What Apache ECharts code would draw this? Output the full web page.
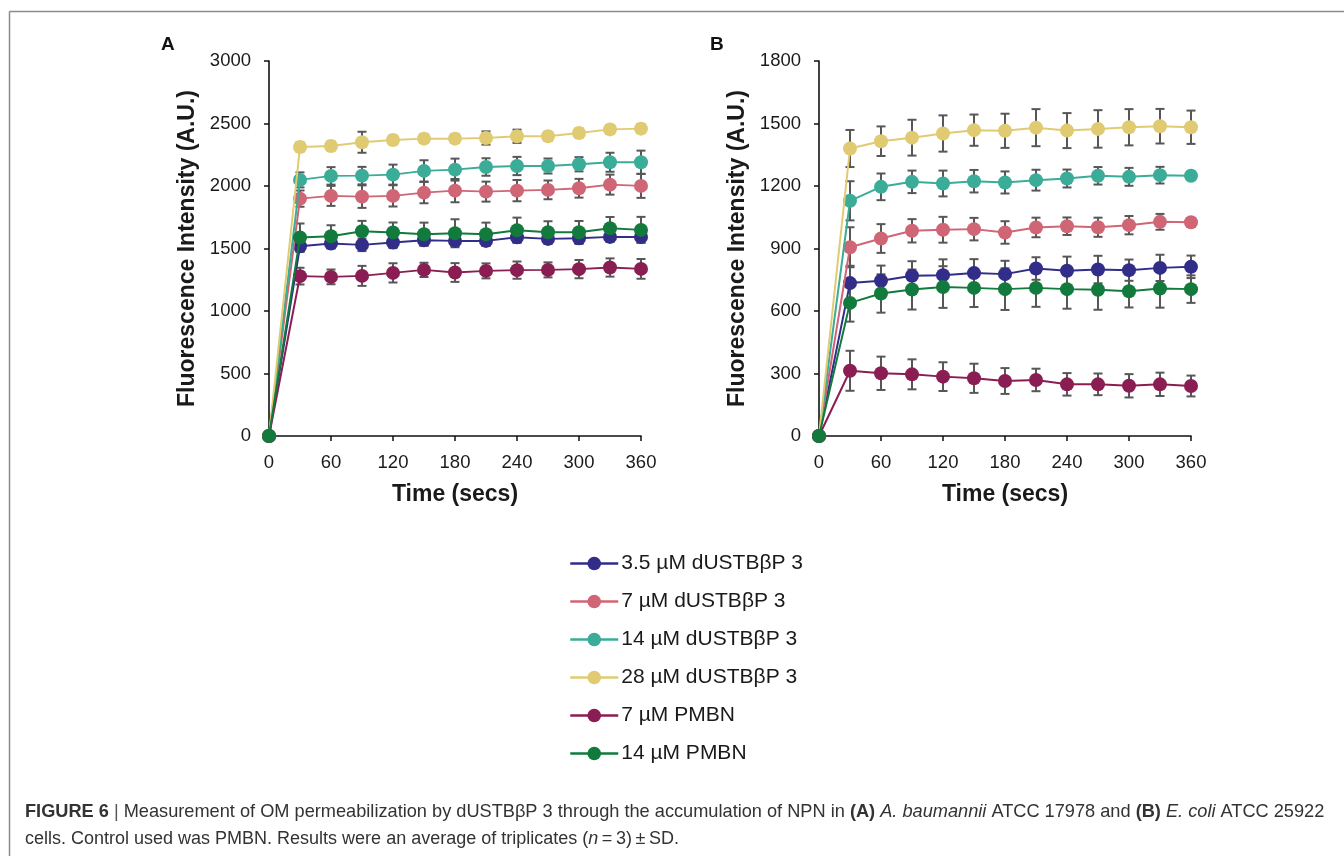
<!DOCTYPE html>
<html>
<head>
<meta charset="utf-8">
<script src="https://cdn.jsdelivr.net/npm/echarts@6/dist/echarts.min.js"></script>
<style>
html,body{margin:0;padding:0;background:#fff;}
#chart{width:1344px;height:856px;}
</style>
</head>
<body>
<div id="chart"></div>
<script>
// ---------- data ----------
const times = [0, 30, 60, 90, 120, 150, 180, 210, 240, 270, 300, 330, 360];
const seriesNames = ['3.5 µM dUSTBβP 3', '7 µM dUSTBβP 3', '14 µM dUSTBβP 3', '28 µM dUSTBβP 3', '7 µM PMBN', '14 µM PMBN'];
const xTicks = [0, 60, 120, 180, 240, 300, 360];
const yTicksA = [0, 500, 1000, 1500, 2000, 2500, 3000];
const yTicksB = [0, 300, 600, 900, 1200, 1500, 1800];

// Panel A (A. baumannii) means
const a_d35  = [0, 1518, 1540, 1529, 1548, 1566, 1561, 1561, 1590, 1577, 1582, 1593, 1593];
const a_d7   = [0, 1899, 1921, 1915, 1921, 1947, 1963, 1955, 1963, 1969, 1982, 2011, 2001];
const a_d14  = [0, 2049, 2081, 2083, 2091, 2121, 2131, 2152, 2160, 2160, 2174, 2190, 2190];
const a_d28  = [0, 2312, 2320, 2350, 2368, 2379, 2379, 2384, 2398, 2398, 2424, 2453, 2459];
const a_p7   = [0, 1279, 1273, 1281, 1305, 1329, 1308, 1321, 1327, 1329, 1335, 1348, 1337];
const a_p14  = [0, 1588, 1598, 1638, 1628, 1614, 1622, 1614, 1646, 1630, 1630, 1662, 1649];
// Panel A SD
const a_d35_sd = [0, 45, 40, 50, 45, 40, 40, 40, 40, 40, 45, 40, 45];
const a_d7_sd  = [0, 65, 80, 90, 85, 85, 93, 80, 85, 75, 75, 80, 96];
const a_d14_sd = [0, 60, 70, 70, 80, 85, 88, 70, 73, 60, 57, 76, 93];
const a_d28_sd = [0, 35, 35, 84, 35, 35, 35, 53, 53, 35, 35, 35, 35];
const a_p7_sd  = [0, 67, 59, 80, 77, 57, 75, 60, 69, 60, 73, 73, 79];
const a_p14_sd = [0, 112, 88, 83, 80, 93, 112, 93, 101, 88, 90, 90, 104];

// Panel B (E. coli) means
const b_d35  = [0, 734, 745, 769, 772, 782, 777, 804, 793, 799, 796, 807, 812];
const b_d7   = [0, 906, 948, 985, 990, 993, 977, 1001, 1007, 1002, 1012, 1028, 1026];
const b_d14  = [0, 1129, 1196, 1220, 1212, 1223, 1217, 1228, 1236, 1249, 1244, 1252, 1249];
const b_d28  = [0, 1380, 1415, 1432, 1452, 1468, 1465, 1480, 1466, 1474, 1482, 1487, 1482];
const b_p7   = [0, 313, 301, 296, 285, 277, 264, 269, 248, 248, 241, 248, 240];
const b_p14  = [0, 639, 684, 703, 715, 711, 705, 711, 705, 702, 695, 708, 705];
// Panel B SD
const b_d35_sd = [0, 83, 73, 70, 76, 67, 64, 54, 68, 66, 51, 63, 54];
const b_d7_sd  = [0, 96, 69, 56, 62, 54, 54, 47, 42, 46, 44, 38, 20];
const b_d14_sd = [0, 94, 64, 54, 62, 54, 53, 50, 43, 42, 43, 40, 20];
const b_d28_sd = [0, 89, 71, 86, 87, 75, 82, 89, 84, 90, 87, 83, 80];
const b_p7_sd  = [0, 96, 80, 72, 69, 70, 62, 54, 54, 52, 56, 56, 50];
const b_p14_sd = [0, 90, 92, 96, 100, 92, 100, 91, 94, 96, 78, 92, 66];

const colors = ['#312d88', '#d06575', '#3aac98', '#e0cb72', '#8a1d52', '#117a3c'];

// ---------- build ----------
const panelA = [[a_d35, a_d35_sd], [a_d7, a_d7_sd], [a_d14, a_d14_sd], [a_d28, a_d28_sd], [a_p7, a_p7_sd], [a_p14, a_p14_sd]];
const panelB = [[b_d35, b_d35_sd], [b_d7, b_d7_sd], [b_d14, b_d14_sd], [b_d28, b_d28_sd], [b_p7, b_p7_sd], [b_p14, b_p14_sd]];

const FONT = '"Liberation Sans", Arial, Helvetica, sans-serif';
const TXT = '#1a1a1a';

function errRender(params, api) {
  const x = api.value(0), lo = api.value(1), hi = api.value(2);
  if (hi - lo <= 0) return null;
  const p1 = api.coord([x, lo]);
  const p2 = api.coord([x, hi]);
  const w = 4.5;
  const st = { stroke: '#575757', lineWidth: 2 };
  return {
    type: 'group',
    children: [
      { type: 'line', shape: { x1: p1[0], y1: p1[1], x2: p2[0], y2: p2[1] }, style: st },
      { type: 'line', shape: { x1: p1[0] - w, y1: p1[1], x2: p1[0] + w, y2: p1[1] }, style: st },
      { type: 'line', shape: { x1: p2[0] - w, y1: p2[1], x2: p2[0] + w, y2: p2[1] }, style: st }
    ]
  };
}

const series = [];
[panelA, panelB].forEach((panel, pi) => {
  panel.forEach((pair, si) => {
    series.push({
      type: 'custom',
      xAxisIndex: pi, yAxisIndex: pi,
      renderItem: errRender,
      z: 1,
      silent: true,
      encode: { x: 0, y: [1, 2] },
      data: times.map((t, i) => [t, pair[0][i] - pair[1][i], pair[0][i] + pair[1][i]])
    });
  });
  panel.forEach((pair, si) => {
    series.push({
      type: 'line',
      name: seriesNames[si],
      xAxisIndex: pi, yAxisIndex: pi,
      z: 3 + si,
      symbol: 'circle',
      symbolSize: 14,
      color: colors[si],
      lineStyle: { width: 2, color: colors[si] },
      itemStyle: { color: colors[si] },
      data: times.map((t, i) => [t, pair[0][i]])
    });
  });
});

function xAxis(gi) {
  return {
    type: 'value', gridIndex: gi, min: 0, max: 360, interval: 60,
    name: 'Time (secs)', nameLocation: 'middle', nameGap: 47,
    nameTextStyle: { fontFamily: FONT, fontSize: 23, fontWeight: 'bold', color: TXT },
    axisLine: { lineStyle: { color: '#111', width: 1.6 } },
    axisTick: { show: true, length: 5, lineStyle: { color: '#111', width: 1.5 } },
    axisLabel: { fontFamily: FONT, fontSize: 18.5, color: TXT, margin: 17,
      formatter: v => xTicks.includes(v) ? String(v) : '' },
    splitLine: { show: false }
  };
}
function yAxis(gi, max, interval, ticks) {
  return {
    type: 'value', gridIndex: gi, min: 0, max: max, interval: interval,
    name: 'Fluorescence Intensity (A.U.)', nameLocation: 'middle', nameGap: 70,
    nameTextStyle: { fontFamily: FONT, fontSize: 23, fontWeight: 'bold', color: TXT },
    axisLine: { show: true, lineStyle: { color: '#111', width: 1.6 } },
    axisTick: { show: true, length: 5, lineStyle: { color: '#111', width: 1.5 } },
    axisLabel: { fontFamily: FONT, fontSize: 18.5, color: TXT, margin: 18,
      formatter: v => ticks.includes(v) ? String(v) : '' },
    splitLine: { show: false }
  };
}

const option = {
  animation: false,
  backgroundColor: '#fff',
  grid: [
    { left: 269, top: 61, width: 372, height: 375 },
    { left: 819, top: 61, width: 372, height: 375 }
  ],
  xAxis: [xAxis(0), xAxis(1)],
  yAxis: [yAxis(0, 3000, 500, yTicksA), yAxis(1, 1800, 300, yTicksB)],
  legend: {
    data: seriesNames,
    orient: 'vertical',
    left: 564, top: 548,
    itemWidth: 48, itemHeight: 17, itemGap: 17,
    lineStyle: { width: 2.5 },
    textStyle: { fontFamily: FONT, fontSize: 21, color: TXT, padding: [0, 0, 0, -2] },
    selectedMode: false
  },
  graphic: [
    { type: 'line', shape: { x1: 9.5, y1: 11.5, x2: 1344, y2: 11.5 }, style: { stroke: '#8a8a8a', lineWidth: 1.5 } },
    { type: 'line', shape: { x1: 9.5, y1: 11.5, x2: 9.5, y2: 856 }, style: { stroke: '#8a8a8a', lineWidth: 1.5 } },
    { type: 'text', left: 161, top: 35, style: { text: 'A', font: 'bold 19px ' + FONT, fill: '#111' } },
    { type: 'text', left: 710, top: 35, style: { text: 'B', font: 'bold 19px ' + FONT, fill: '#111' } },
    { type: 'text', left: 25, top: 803,
      style: {
        text: '{b|FIGURE 6} {s||} Measurement of OM permeabilization by dUSTBβP 3 through the accumulation of NPN in {b|(A)} {i|A. baumannii} ATCC 17978 and {b|(B)} {i|E. coli} ATCC 25922',
        font: '18.2px ' + FONT, fill: '#333',
        rich: {
          b: { fontWeight: 'bold', fontFamily: FONT, fontSize: 18.2, fill: '#333' },
          i: { fontStyle: 'italic', fontFamily: FONT, fontSize: 18.2, fill: '#333' },
          s: { fontFamily: FONT, fontSize: 18.2, fill: '#555' }
        }
      } },
    { type: 'text', left: 25, top: 830,
      style: {
        text: 'cells. Control used was PMBN. Results were an average of triplicates ({i|n}\u2009=\u20093)\u2009±\u2009SD.',
        font: '18px ' + FONT, fill: '#333',
        rich: {
          i: { fontStyle: 'italic', fontFamily: FONT, fontSize: 18, fill: '#333' }
        }
      } }
  ],
  series: series
};

const chart = echarts.init(document.getElementById('chart'), null, { renderer: 'canvas' });
chart.setOption(option);
</script>
</body>
</html>
